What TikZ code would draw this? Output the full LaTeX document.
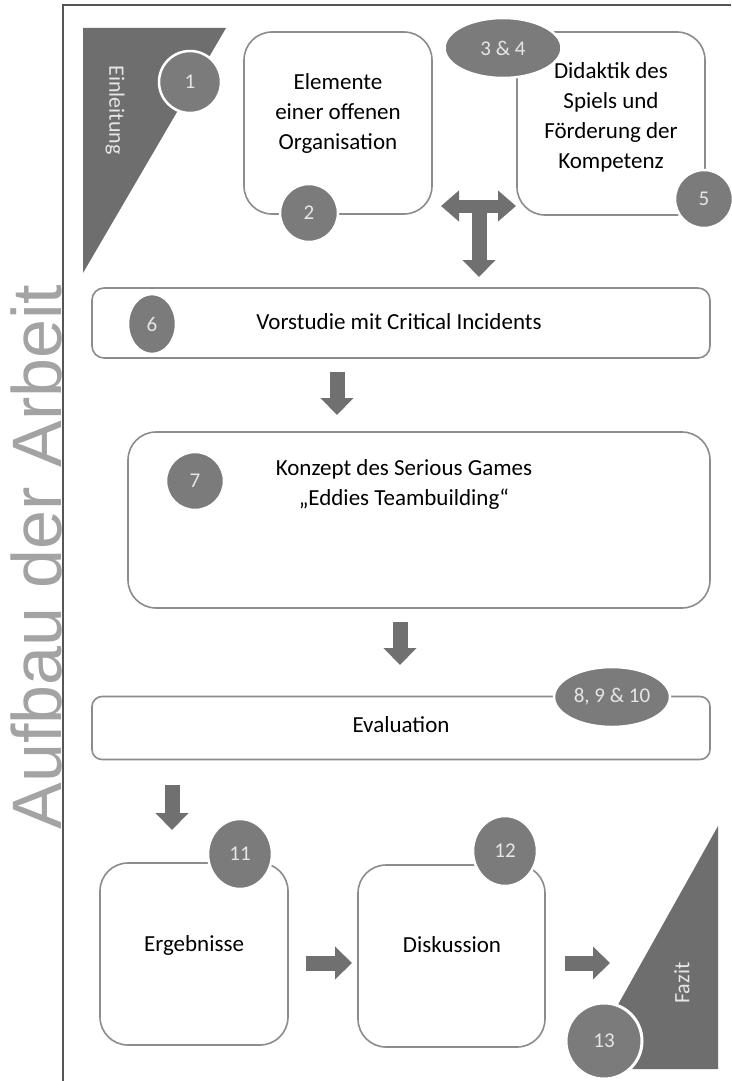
\documentclass[tikz,border=0pt]{standalone}
\usepackage{fontspec}
\setmainfont{Carlito}
\newfontfamily\titlefont{Liberation Sans}
\usetikzlibrary{shapes.geometric,arrows.meta}
\definecolor{boxline}{HTML}{8C8C8C}
\definecolor{darkfill}{HTML}{6E6E6E}
\definecolor{badgefill}{HTML}{7B7B7B}
\definecolor{arrowfill}{HTML}{707070}
\definecolor{framecol}{HTML}{555555}
\definecolor{titlegray}{HTML}{A3A3A3}
\definecolor{badgetext}{HTML}{E6E6E6}
\begin{document}
\begin{tikzpicture}[x=1pt,y=-1pt,
  box/.style={draw=boxline, line width=1.6pt, fill=white, inner sep=0pt},
  badge/.style={fill=badgefill, draw=white, line width=2.5pt, text=badgetext,
    font=\fontsize{21}{24}\selectfont, inner sep=0pt},
  boxtext/.style={align=center, font=\fontsize{23}{30}\selectfont, text=black},
  sidetext/.style={text=badgetext, font=\fontsize{22}{24}\selectfont},
  blockarrow/.style={draw=arrowfill, line width=15pt, -{Triangle[width=32pt,length=17pt]}},
  dblarrow/.style={draw=arrowfill, line width=13pt, {Triangle[width=30pt,length=18pt]}-{Triangle[width=30pt,length=18pt]}},
]
\useasboundingbox (0,0) rectangle (731,1081);
\fill[white] (0,0) rectangle (731,1081);

% frame
\coordinate (frTR) at (731,5);
\coordinate (frTL) at (63,5);
\coordinate (frBL) at (63,1081);
\draw[framecol, line width=2pt] (frTR) -- (frTL) -- (frBL);

% title
\node[rotate=90, text=titlegray, font=\titlefont\fontsize{70}{80}\selectfont] (title) at (36,557) {Aufbau der Arbeit};

% Einleitung triangle
\fill[darkfill] (83,28) -- (226,28) -- (83,273) -- cycle;
\node[sidetext, rotate=-90] (einl) at (115,110) {Einleitung};

% top boxes
\node[box, rounded corners=28pt, minimum width=188pt, minimum height=182pt] (b2) at (338,123) {};
\node[boxtext] (t2) at (338,113) {Elemente\\einer offenen\\Organisation};
\node[box, rounded corners=28pt, minimum width=188pt, minimum height=183pt] (b5) at (611,123.5) {};
\node[boxtext] (t5) at (611,117) {Didaktik des\\Spiels und\\Förderung der\\Kompetenz};

% T arrow
\coordinate (hL) at (441,206);
\coordinate (hR) at (516,206);
\coordinate (vT) at (479,206);
\coordinate (vB) at (479,277);
\draw[dblarrow] (hL) -- (hR);
\draw[blockarrow, line width=15pt] (vT) -- (vB);

% box 6
\node[box, rounded corners=12pt, minimum width=618pt, minimum height=70pt] (b6) at (401,323) {};
\node[boxtext] (t6) at (399,322) {Vorstudie mit Critical Incidents};

\coordinate (a1s) at (337,372);
\coordinate (a1e) at (337,415);
\draw[blockarrow] (a1s) -- (a1e);

% box 7
\node[box, rounded corners=28pt, minimum width=582pt, minimum height=176pt] (b7) at (419,520) {};
\node[boxtext] (t7) at (404,484) {Konzept des Serious Games\\„Eddies Teambuilding“};

\coordinate (a2s) at (400,622);
\coordinate (a2e) at (400,665);
\draw[blockarrow] (a2s) -- (a2e);

% evaluation
\node[box, rounded corners=10pt, minimum width=618pt, minimum height=63pt] (b8) at (401,728) {};
\node[boxtext] (t8) at (401,725) {Evaluation};

\coordinate (a3s) at (172,785);
\coordinate (a3e) at (172,830);
\draw[blockarrow] (a3s) -- (a3e);

% bottom boxes
\node[box, rounded corners=28pt, minimum width=188pt, minimum height=182pt] (b11) at (194,954) {};
\node[boxtext] (t11) at (194,945) {Ergebnisse};
\node[box, rounded corners=28pt, minimum width=187pt, minimum height=182pt] (b12) at (451.5,956) {};
\node[boxtext] (t12) at (452,945) {Diskussion};

\coordinate (a4s) at (306,963);
\coordinate (a4e) at (352,963);
\draw[blockarrow] (a4s) -- (a4e);
\coordinate (a5s) at (565,963);
\coordinate (a5e) at (610,963);
\draw[blockarrow] (a5s) -- (a5e);

% Fazit triangle
\fill[darkfill] (718,826) -- (718,1069) -- (582,1069) -- cycle;
\node[sidetext, rotate=90] (fazit) at (682,983) {Fazit};

% badges
\node[badge, circle, minimum size=62pt] (c1) at (190,82) {1};
\node[badge, circle, minimum size=58pt] (c2) at (309,213) {2};
\node[badge, ellipse, minimum width=117pt, minimum height=60pt] (c34) at (503,48) {3 \& 4};
\node[badge, circle, minimum size=58pt] (c5) at (704,199) {5};
\node[badge, ellipse, minimum width=48pt, minimum height=60pt] (c6) at (152,324) {6};
\node[badge, circle, minimum size=58pt] (c7) at (195,481) {7};
\node[badge, ellipse, minimum width=116pt, minimum height=60pt] (c8) at (612,697) {8, 9 \& 10};
\node[badge, ellipse, minimum width=64pt, minimum height=70pt] (c11) at (240,854) {11};
\node[badge, ellipse, minimum width=64pt, minimum height=70pt] (c12) at (505,851) {12};
\node[badge, ellipse, minimum width=76pt, minimum height=76pt, line width=3pt] (c13) at (604,1041) {13};
\end{tikzpicture}
\end{document}
